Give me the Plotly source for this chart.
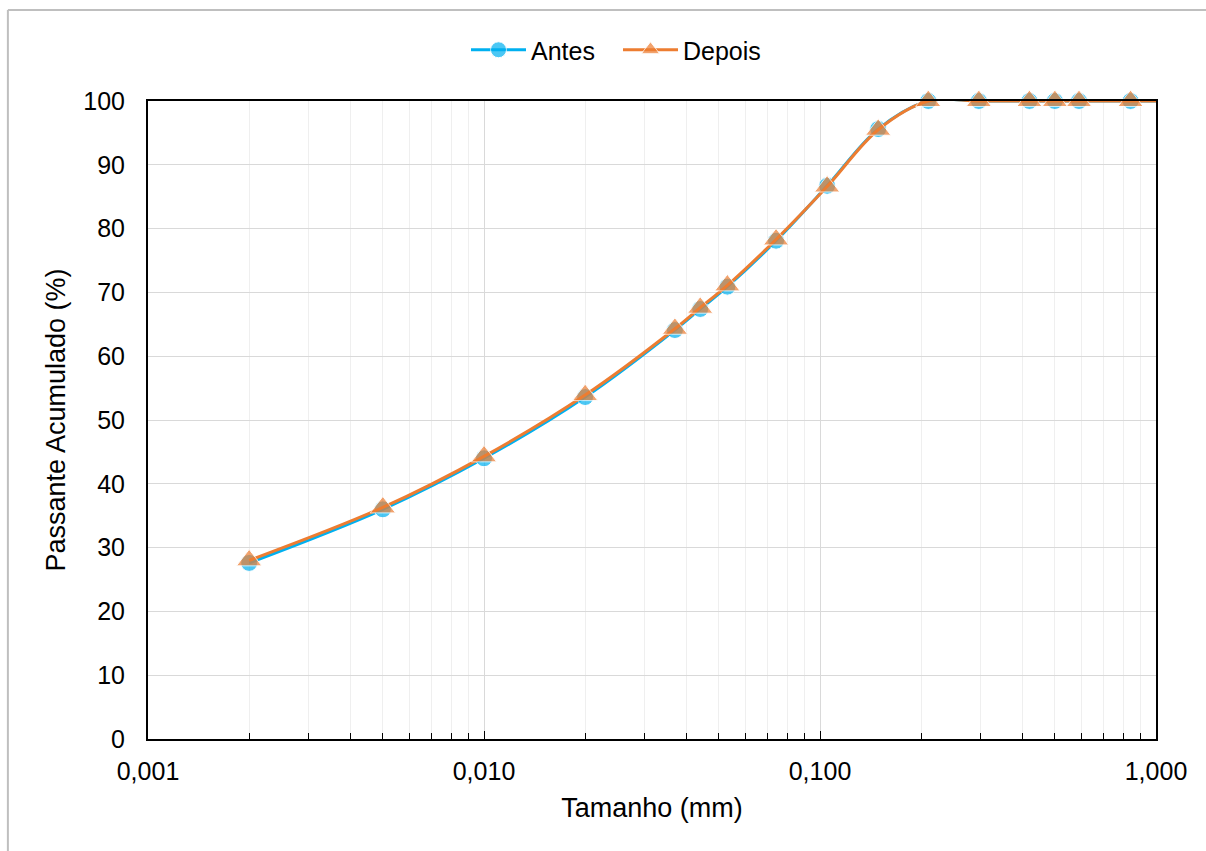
import plotly.graph_objects as go

# Particle size distribution (mm) and cumulative passing (%)
tamanho_mm = [0.002, 0.005, 0.010, 0.020, 0.037, 0.044, 0.053, 0.074,
              0.105, 0.149, 0.210, 0.297, 0.420, 0.500, 0.590, 0.840, 1.190]
antes = [27.6, 36.0, 44.0, 53.6, 64.1, 67.4, 70.9, 78.1,
         86.7, 95.6, 100.0, 100.0, 100.0, 100.0, 100.0, 100.0, 100.0]
depois = [28.0, 36.3, 44.3, 53.9, 64.3, 67.6, 71.1, 78.3,
          86.6, 95.5, 100.0, 100.0, 100.0, 100.0, 100.0, 100.0, 100.0]

x_tick_vals = [0.001, 0.01, 0.1, 1.0]
x_tick_text = ["0,001", "0,010", "0,100", "1,000"]
y_tick_vals = [0, 10, 20, 30, 40, 50, 60, 70, 80, 90, 100]

BLUE = "#00B0F0"
ORANGE = "#ED7D31"
FONT = "Liberation Sans, Arial, sans-serif"
FS_TICK = 25
FS_TITLE = 27
FS_LEG = 25

# hide markers for sieve sizes beyond the axis maximum
def marker_sizes(base):
    return [base if v <= 1.0 else 0 for v in tamanho_mm]

fig = go.Figure()
fig.add_trace(go.Scatter(
    x=tamanho_mm, y=antes, name="Antes", mode="lines+markers",
    line=dict(color=BLUE, width=3, shape="spline", smoothing=1.0),
    marker=dict(symbol="circle", size=marker_sizes(17), color=BLUE),
    cliponaxis=False,
))
fig.add_trace(go.Scatter(
    x=tamanho_mm, y=depois, name="Depois", mode="lines+markers",
    line=dict(color=ORANGE, width=3, shape="spline", smoothing=1.0),
    marker=dict(symbol="triangle-up", size=marker_sizes(22), color=ORANGE),
    cliponaxis=False,
))

minor_vals = [m * 10 ** k for k in (-3, -2, -1) for m in range(2, 10)]

fig.update_xaxes(
    type="log", range=[-3, 0],
    tickvals=x_tick_vals, ticktext=x_tick_text,
    ticks="inside", ticklen=8, tickwidth=1, tickcolor="black",
    showgrid=True, gridcolor="#d9d9d9", gridwidth=1,
    showline=True, linecolor="black", linewidth=2, mirror=True,
    minor=dict(tickvals=minor_vals, ticks="inside", ticklen=6,
               tickcolor="black", tickwidth=1,
               showgrid=True, gridcolor="#efefef", gridwidth=1),
    ticklabelstandoff=9,
    title=dict(text="Tamanho (mm)", font=dict(size=FS_TITLE, color="black", family=FONT),
               standoff=14),
    tickfont=dict(size=FS_TICK, color="black", family=FONT),
    zeroline=False, automargin=False,
)
fig.update_yaxes(
    range=[0, 100], tickvals=y_tick_vals,
    showgrid=True, gridcolor="#d9d9d9", gridwidth=1,
    showline=True, linecolor="black", linewidth=2, mirror=True,
    ticks="", ticklabelstandoff=16,
    title=dict(text="Passante Acumulado (%)", font=dict(size=FS_TITLE, color="black", family=FONT),
               standoff=10),
    tickfont=dict(size=FS_TICK, color="black", family=FONT),
    zeroline=False, automargin=False,
)

# outer gray frame around the chart object
fig.add_shape(type="line", xref="paper", yref="paper",
              x0=-0.139, x1=1.06, y0=1.1426, y1=1.1426,
              line=dict(color="#bfbfbf", width=2))
fig.add_shape(type="line", xref="paper", yref="paper",
              x0=-0.139, x1=-0.139, y0=1.1426, y1=-0.2,
              line=dict(color="#bfbfbf", width=2))

fig.update_layout(
    width=1206, height=851,
    margin=dict(l=148, r=50, t=101, b=112, autoexpand=False),
    paper_bgcolor="white", plot_bgcolor="white",
    font=dict(family=FONT, size=FS_TICK, color="black"),
    showlegend=True,
    legend=dict(orientation="h", x=(466 - 148) / 1008, xanchor="left",
                yref="container", y=1 - 50 / 851, yanchor="middle",
                font=dict(size=FS_LEG, color="black", family=FONT),
                itemwidth=55, entrywidth=82, bgcolor="rgba(0,0,0,0)"),
)

fig.write_html("out.html")
